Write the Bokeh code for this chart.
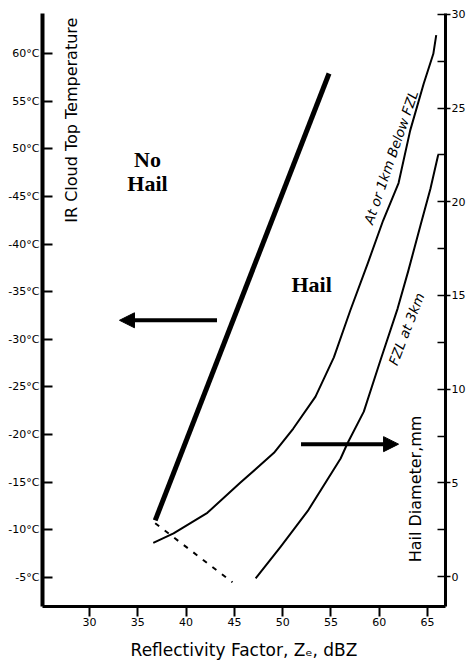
from bokeh.plotting import figure
from bokeh.models import (Range1d, LinearAxis, FixedTicker, SingleIntervalTicker,
                          Arrow, NormalHead)
from bokeh.core.properties import value
from bokeh.embed import file_html
from bokeh.resources import INLINE

# ---------------- data ----------------
dbz_ticks = [30, 35, 40, 45, 50, 55, 60, 65]
temp_ticks = [5, 10, 15, 20, 25, 30, 35, 40, 45, 50, 55, 60]
temp_labels = ["-5°C", "-10°C", "-15°C", "-20°C", "-25°C", "-30°C",
               "-35°C", "-40°C", "-45°C", "50°C", "55°C", "60°C"]

# No hail / hail boundary (reflectivity vs IR cloud top temperature)
boundary_dbz = [36.8, 54.8]
boundary_temp = [11.0, 57.9]
dashed_dbz = [36.8, 44.8]
dashed_temp = [10.7, 4.5]

# Hail diameter curves (reflectivity vs hail diameter, mm)
fzl1_dbz = [36.6, 38.7, 42.2, 45.6, 49.1, 51.1, 53.4, 55.3, 57.0, 58.8,
            60.4, 62.0, 63.2, 64.6, 65.6, 65.9]
fzl1_diam = [1.8, 2.3, 3.4, 5.0, 6.6, 7.9, 9.6, 11.7, 14.2, 16.7,
             19.0, 21.0, 23.8, 26.3, 27.9, 28.9]
fzl3_dbz = [47.2, 49.8, 52.6, 56.0, 56.7, 58.4, 60.1, 61.9, 63.0,
            64.3, 65.3, 66.1]
fzl3_diam = [-0.1, 1.6, 3.5, 6.3, 7.1, 8.8, 11.5, 14.3, 16.3,
             18.8, 20.7, 22.5]

region_text = ["No", "Hail", "Hail"]
region_x = [36.0, 36.0, 53.0]
region_y = [48.85, 46.35, 35.75]

curve_text = ["At or 1km Below FZL", "FZL at 3km"]
curve_x = [61.2, 62.8]
curve_y = [49.1, 31.1]
curve_angle = [1.24, 1.20]

left_arrow = dict(x0=43.2, x1=33.1, y=32.0)
right_arrow = dict(x0=51.9, x1=62.0, y=19.0)

# ---------------- figure ----------------
W, H = 468, 664
p = figure(width=W, height=H,
           x_range=Range1d(25.13, 66.86), y_range=Range1d(1.96, 64.2),
           output_backend="svg", toolbar_location=None,
           min_border_left=42, min_border_right=W - 445,
           min_border_top=13, min_border_bottom=H - 606)
p.outline_line_color = None
p.background_fill_color = "white"
p.border_fill_color = "white"
p.xgrid.visible = False
p.ygrid.visible = False

tick_font = "DejaVu Sans"

# bottom axis
xa = p.xaxis[0]
xa.ticker = FixedTicker(ticks=dbz_ticks)
xa.axis_line_width = 3
xa.major_tick_line_width = 2
xa.major_tick_out = 10
xa.major_tick_in = 0
xa.minor_tick_line_color = None
xa.major_label_text_font = tick_font
xa.major_label_text_font_size = "11px"
xa.major_label_text_color = "black"
xa.major_label_standoff = 1
xa.axis_label = "Reflectivity Factor, Zₑ, dBZ"
xa.axis_label_text_font = tick_font
xa.axis_label_text_font_size = "17px"
xa.axis_label_text_font_style = "normal"
xa.axis_label_text_color = "black"
xa.axis_label_standoff = 11

# left axis
ya = p.yaxis[0]
ya.ticker = FixedTicker(ticks=temp_ticks)
ya.major_label_overrides = {t: l for t, l in zip(temp_ticks, temp_labels)}
ya.axis_line_width = 4
ya.major_tick_line_width = 2
ya.major_tick_in = 10
ya.major_tick_out = 0
ya.minor_tick_line_color = None
ya.major_label_text_font = tick_font
ya.major_label_text_font_size = "11px"
ya.major_label_text_color = "black"
ya.major_label_standoff = 3

# right axis (hail diameter)
p.extra_y_ranges = {"hail": Range1d(-1.6, 30.05)}
ra = LinearAxis(y_range_name="hail",
                ticker=SingleIntervalTicker(interval=5, num_minor_ticks=2))
ra.axis_line_width = 3
ra.major_tick_line_width = 1.5
ra.major_tick_out = 5
ra.major_tick_in = 0
ra.minor_tick_line_width = 1.5
ra.minor_tick_in = 8
ra.minor_tick_out = 0
ra.major_label_text_font = tick_font
ra.major_label_text_font_size = "11px"
ra.major_label_text_color = "black"
ra.major_label_standoff = 1
p.add_layout(ra, "right")

# boundary lines
p.line(boundary_dbz, boundary_temp, line_width=5, color="black")
p.line(dashed_dbz, dashed_temp, line_width=2, color="black", line_dash="5 7")

# hail-size curves
p.line(fzl1_dbz, fzl1_diam, y_range_name="hail", line_width=2, color="black",
       line_join="round")
p.line(fzl3_dbz, fzl3_diam, y_range_name="hail", line_width=2, color="black",
       line_join="round")

# region labels
p.text(x=region_x, y=region_y, text=region_text,
       text_font=value("Liberation Serif"), text_font_style="bold",
       text_font_size="22px", text_align="center", text_baseline="alphabetic",
       text_color="black")

# curve labels
p.text(x=curve_x, y=curve_y, text=curve_text, angle=curve_angle,
       text_font=value("DejaVu Sans"), text_font_style="italic",
       text_font_size="13.5px", text_align="center", text_baseline="middle",
       text_color="black")

# inner axis titles
p.text(x=[28.1], y=[53.0], text=["IR Cloud Top Temperature"], angle=[1.5708],
       text_font=value("DejaVu Sans"), text_font_size="16px",
       text_align="center", text_baseline="middle", text_color="black")
p.text(x=[63.8], y=[14.3], text=["Hail Diameter,mm"], angle=[1.5708],
       text_font=value("DejaVu Sans"), text_font_size="16px",
       text_align="center", text_baseline="middle", text_color="black")

# arrows
p.add_layout(Arrow(end=NormalHead(size=15, fill_color="black", line_color="black"),
                   x_start=left_arrow["x0"], y_start=left_arrow["y"],
                   x_end=left_arrow["x1"], y_end=left_arrow["y"],
                   line_width=4, line_color="black"))
p.add_layout(Arrow(end=NormalHead(size=15, fill_color="black", line_color="black"),
                   x_start=right_arrow["x0"], y_start=right_arrow["y"],
                   x_end=right_arrow["x1"], y_end=right_arrow["y"],
                   line_width=4, line_color="black"))

open("out.html", "w").write(file_html(p, INLINE))
